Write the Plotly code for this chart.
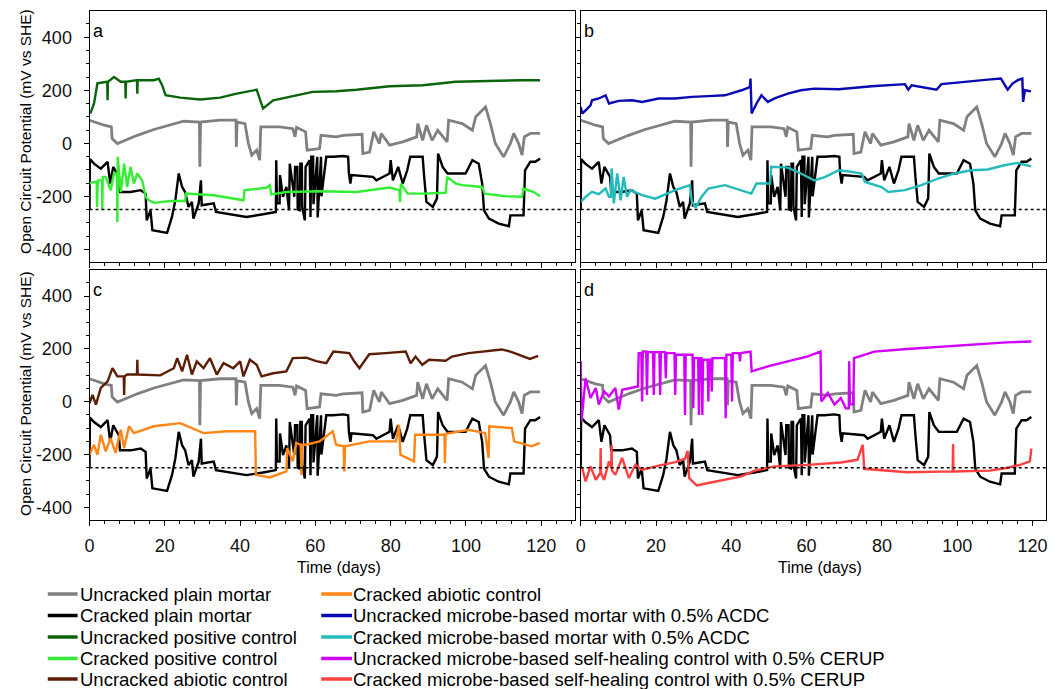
import plotly.graph_objects as go

W, H = 1058, 689
FONT = "Liberation Sans, Arial, sans-serif"

# ---------------- data (days, mV vs SHE) ----------------
gray_t = [0, 3.9, 5.8, 6.0, 7.4, 12.7, 17.1, 21.5, 25, 29.2, 29.3, 29.5, 34.7, 38.9, 39.0, 39.2, 41.3, 42.2, 43.1, 44.4, 45.2,
          45.5, 50.5, 54, 54.6, 55, 57.4, 57.8, 61.1, 61.5, 65.5, 67.4, 72.4, 72.6, 74.4, 75.5, 77, 77.5, 79.7, 83.2, 86.9,
          87.2, 88.5, 89.5, 91, 92.5, 95, 95.4, 99, 101.7, 102.6, 105.2, 106.5, 107.8, 110, 111.8, 112.7, 114, 114.9,
          115.5, 117.1, 119.7]
gray_v = [87, 68, 62, 18, -1, 30, 52, 68, 83, 80, -89, 80, 87, 87, -14, 80, 74, -1, -45, -26, -64,
          62, 62, 55, 24, 60, 43, -26, -20, 30, 24, 30, 34, -39, -33, 43, -1, 37, -7, 5, 24,
          74, 11, 68, 11, 49, 5, 87, 74, 49, 100, 137, 74, -1, -51, -1, 37, -1, -45,
          24, 37, 37]

black_t = [0, 0.1, 1.2, 3, 4.8, 5.5, 6.3, 7.8, 8.1, 10.9, 13.6, 14.9, 15.2, 16.2, 16.7, 20.6, 21.9, 22.8, 23.7, 24.6, 25.4,
           26.3, 27.2, 27.6, 29, 29.6, 29.8, 33, 33.6, 36.5, 41.7, 46.1, 49.5, 49.6, 49.8, 50.5, 50.6, 51.4, 52.3, 53.0,
           53.2, 54.4, 54.6, 55.2, 55.3, 55.8, 56.0, 56.4, 56.5, 57.2, 57.4, 58.5, 58.7, 58.9, 59.4, 59.5, 60.5, 60.6,
           61.5, 61.6, 62.9, 64.7, 67.4, 68.7, 68.9, 69.3, 69.6, 75.3, 76.2, 79.7, 80.0, 80.6, 82.0, 83.2, 84.4, 85.2,
           88.5, 88.9, 89.5, 91.2, 92.3, 92.6, 93.8, 95.1, 99.9, 101.7, 103.4, 104.3, 104.8, 106.1, 108.7, 111.4,
           111.8, 115.3, 115.7, 117.1, 118.4, 119.7]
black_v = [-250, -60, -77, -96, -70, -152, -89, -127, -184, -184, -177, -190, -291, -253, -328, -338, -278, -215, -114, -165, -184,
           -240, -221, -284, -227, -140, -234, -227, -259, -265, -278, -268, -259, -64, -227, -227, -120, -202, -165, -253,
           -77, -202, -89, -89, -250, -253, -77, -77, -240, -291, -89, -64, -278, -51, -51, -230, -51, -280,
           -51, -200, -51, -51, -48, -51, -114, -152, -120, -127, -140, -114, -64, -140, -89, -152, -102, -51,
           -51, -127, -221, -240, -208, -39, -89, -114, -114, -64, -77, -152, -253, -284, -303, -313,
           -272, -272, -102, -70, -70, -58]

upos_t = [0.2, 1.2, 2.1, 3.9, 4.7, 4.8, 4.9, 6.5, 8.3, 9.5, 9.6, 9.7, 12.6, 12.7, 12.8, 17.1, 18.4, 19.3, 20.2, 24.1, 29.4,
          34.7, 39.1, 44.4, 45.3, 46.1, 48.8, 54, 59.3, 65.5, 70.9, 79.7, 88.5, 97.3, 106.1, 114.9, 119.7]
upos_v = [112, 150, 226, 232, 232, 162, 232, 250, 232, 232, 169, 232, 238, 187, 238, 238, 244, 219, 181, 172, 165,
          172, 187, 202, 162, 131, 162, 177, 194, 196, 202, 215, 219, 232, 236, 238, 238]

cpos_t = [0, 1.2, 1.9, 2.0, 2.2, 3.3, 3.4, 3.5, 4.3, 5.6, 6.5, 7.3, 7.4, 7.5, 8.3, 9.2, 10, 10.9, 11.8, 12.7, 14, 14.9,
          15.8, 17.1, 21.5, 25.4, 25.6, 32.9, 40.9, 41.2, 47, 47.9, 48.3, 52.3, 61.1, 70.9, 79.7, 81.9, 82.3, 82.5,
          82.7, 84.5, 88.5, 94.6, 95.0, 97.3, 99, 104.3, 105.0, 110.5, 114.9, 115.3, 118, 119.7]
cpos_v = [-152, -146, -146, -240, -140, -140, -253, -127, -127, -177, -114, -114, -297, -51, -184, -77, -165, -89, -152, -114, -140,
          -202, -215, -225, -218, -218, -190, -196, -215, -177, -168, -158, -193, -184, -181, -184, -167, -177, -177, -221,
          -152, -190, -190, -187, -127, -152, -158, -165, -190, -200, -202, -171, -184, -200]

uabi_t = [0, 0.8, 1.7, 3, 4.8, 6.1, 7.4, 9.1, 9.2, 9.3, 10, 12.6, 12.7, 12.8, 18.8, 22.4, 23.3, 24.6, 25.9, 27.2, 28.5, 30.3,
          32, 33.8, 35.6, 38.2, 40, 40.9, 42.6, 44.4, 45.7, 48.8, 52.3, 54, 57.6, 60.2, 62.9, 64.8, 69, 70.3, 71.7, 73,
          74.3, 78.7, 84, 85.3, 86.6, 88.4, 90.2, 94.6, 96.3, 100.7, 105.1, 109.5, 112.2, 114.8, 117, 119.2]
uabi_v = [-5, 26, -11, 52, 77, 127, 96, 96, 26, 96, 103, 103, 159, 103, 100, 127, 165, 115, 178, 103, 153, 127,
          165, 103, 146, 127, 153, 96, 159, 140, 96, 108, 115, 165, 167, 154, 146, 190, 184, 153, 127, 153,
          180, 184, 190, 146, 171, 140, 159, 155, 171, 184, 190, 198, 188, 175, 162, 174]

cabi_t = [0, 1.2, 2.1, 3, 4.3, 5.6, 6.9, 8.3, 9.2, 10.5, 11.8, 17.1, 24.1, 28.5, 30.3, 36.5, 44.0, 44.2, 47.9, 52.3, 52.5,
          54, 54.9, 56.1, 56.3, 56.5, 57.6, 61.1, 64.6, 65.5, 67.5, 67.7, 67.9, 74.3, 81.4, 82.2, 82.6, 86.2, 86.5, 92.8,
          94.3, 94.4, 94.6, 100.7, 105.1, 106.0, 106.2, 112.2, 112.8, 117.5, 119.6]
cabi_v = [-201, -163, -201, -125, -188, -138, -194, -106, -175, -93, -119, -93, -81, -106, -119, -112, -112, -277, -287, -264, -175,
          -226, -156, -163, -277, -163, -163, -150, -112, -163, -169, -264, -169, -150, -150, -87, -201, -226, -125, -125,
          -125, -232, -122, -106, -119, -213, -93, -100, -150, -169, -156]

uacdc_t = [0, 0.4, 1.3, 2.6, 3, 4.8, 6.6, 7.5, 10.1, 13.6, 16.3, 20.7, 25.1, 29.5, 33.9, 38.3, 42.7, 44.9, 45.1, 45.4, 46.7,
           48, 49.7, 51.5, 55, 58.5, 62, 68.5, 77.3, 86.1, 87, 87.9, 94.5, 95.8, 99.3, 103.7, 108.1, 111.6, 112.5, 113.4,
           114.7, 116.1, 117.3, 117.5, 118.0, 119.6]
uacdc_v = [137, 112, 124, 143, 162, 169, 181, 150, 160, 162, 156, 169, 169, 175, 178, 181, 200, 212, 244, 112, 150,
           181, 156, 169, 187, 200, 206, 204, 215, 223, 202, 219, 202, 223, 228, 235, 240, 244, 225, 202,
           225, 238, 244, 156, 200, 196]

cacdc_t = [0, 1.3, 3, 4.8, 6.6, 7.5, 8.0, 8.2, 8.8, 9.7, 10.6, 11.4, 12.3, 13.2, 16.3, 19.8, 25.1, 29.0, 29.5, 30.5, 32.1,
           33.9, 38.3, 42.7, 45.3, 46.7, 50.3, 50.6, 55, 58.5, 62, 65, 68.5, 72, 74.6, 75.5, 79.9, 81.7, 86.1, 90.5, 94.9,
           99.3, 103.7, 108.1, 112.5, 116, 119.6]
cacdc_v = [-221, -202, -183, -192, -171, -202, -202, -95, -227, -114, -215, -127, -202, -177, -196, -209, -177, -158, -217, -243, -202,
           -171, -158, -177, -190, -152, -152, -89, -92, -114, -140, -127, -102, -108, -114, -146, -165, -184, -177, -158, -133,
           -114, -102, -99, -83, -74, -87]

ucer_t = [0, 0.2, 1.3, 2.6, 4, 4.8, 6.2, 7.5, 9.2, 10.1, 11, 15.2, 15.4, 16.1, 16.3, 16.5, 17.4, 17.6, 17.8, 19.2, 19.4, 19.6,
          20.9, 21.1, 21.3, 22.4, 22.6, 22.8, 24.9, 25.1, 25.3, 27.5, 27.7, 27.9, 29.7, 29.9, 30.1, 31.2, 31.4, 31.6,
          32.1, 32.3, 32.5, 33.7, 33.9, 34.1, 34.6, 34.8, 35.0, 38.3, 38.5, 38.7, 40.0, 40.2, 40.4, 42.1, 42.3, 42.5,
          45.1, 45.4, 49.7, 53.3, 56.8, 60.3, 63.7, 63.9, 65.6, 67.4, 69.1, 70.4, 71.2, 71.3, 71.5, 72.4, 72.6, 78,
          86.7, 95.5, 104.3, 113.1, 119.7]
ucer_v = [153, -75, 89, 14, 52, -11, 39, 20, 52, -30, 45, 58, 184, 184, 1, 190, 190, 26, 188, 188, 26, 188,
          188, 26, 188, 188, 89, 184, 184, 26, 178, 178, -50, 178, 178, -25, 165, 165, -50, 165,
          165, -50, 159, 159, 1, 159, 159, 39, 165, 165, -63, 178, 178, 1, 184, 184, 153, 184,
          190, 115, 134, 146, 159, 172, 190, 1, 33, -11, 14, -25, -25, 153, -10, -10, 165, 190,
          200, 209, 218, 225, 228]

ccer_t = [0.4, 1.3, 2.6, 4, 5.2, 5.3, 5.4, 6.2, 7.5, 8.1, 8.2, 8.3, 9.2, 11, 12.8, 14.5, 16.3, 20.7, 25.1, 27.7, 28.4, 28.8,
          30.8, 33.9, 38.3, 42.7, 46.2, 51.5, 60.3, 69.1, 73.5, 74.9, 75.3, 86.7, 98.8, 98.9, 99.0, 108.7, 113.1, 116.7,
          119.3, 119.7]
ccer_v = [-251, -302, -245, -296, -270, -175, -270, -296, -226, -250, -163, -260, -277, -213, -289, -239, -258, -242, -229, -216, -186, -289,
          -317, -308, -296, -283, -261, -245, -239, -230, -220, -163, -254, -267, -264, -160, -264, -261, -251, -239,
          -226, -178]

# tick labels (hyphen minus as in the original)
y_tickvals = [-400, -200, 0, 200, 400]
y_ticktext = ["-400", "-200", "0", "200", "400"]
x_tickvals = [0, 20, 40, 60, 80, 100, 120]
x_ticktext = ["0", "20", "40", "60", "80", "100", "120"]

# colours
C_GRAY, C_BLACK = "#808080", "#000000"
C_UPOS, C_CPOS = "#0a640a", "#33ee33"
C_UABI, C_CABI = "#5b1d06", "#ff8515"
C_UACDC, C_CACDC = "#0a0ab4", "#22bbbb"
C_UCER, C_CCER = "#d400ff", "#ff4040"

legend_items = [
    ("Uncracked plain mortar", C_GRAY), ("Cracked plain mortar", C_BLACK),
    ("Uncracked positive control", C_UPOS), ("Cracked positive control", C_CPOS),
    ("Uncracked abiotic control", C_UABI), ("Cracked abiotic control", C_CABI),
    ("Uncracked microbe-based mortar with 0.5% ACDC", C_UACDC),
    ("Cracked microbe-based mortar with 0.5% ACDC", C_CACDC),
    ("Uncracked microbe-based self-healing control with 0.5% CERUP", C_UCER),
    ("Cracked microbe-based self-healing control with 0.5% CERUP", C_CCER),
]
panel_letters = ["a", "b", "c", "d"]

# ---------------- figure ----------------
def px(x):
    return x / W

def py(y):
    return 1 - y / H

fig = go.Figure()

panels = [
    ("x", "y", [(upos_t, upos_v, C_UPOS), (cpos_t, cpos_v, C_CPOS)]),
    ("x2", "y2", [(uacdc_t, uacdc_v, C_UACDC), (cacdc_t, cacdc_v, C_CACDC)]),
    ("x3", "y3", [(uabi_t, uabi_v, C_UABI), (cabi_t, cabi_v, C_CABI)]),
    ("x4", "y4", [(ucer_t, ucer_v, C_UCER), (ccer_t, ccer_v, C_CCER)]),
]
for xa, ya, extra in panels:
    series = [(gray_t, gray_v, C_GRAY, 2.8), (black_t, black_v, C_BLACK, 2.4)] + [(t, v, c, 2.4) for t, v, c in extra]
    for t, v, c, w in series:
        fig.add_trace(go.Scatter(x=t, y=v, mode="lines", xaxis=xa, yaxis=ya,
                                 line=dict(color=c, width=w), showlegend=False, hoverinfo="skip"))

xdom_l = [px(85), px(573)]
xdom_r = [px(579), px(1047)]
ydom_t = [py(262), py(11)]
ydom_b = [py(520), py(270)]
xr_l = [0, 128.9]
xr_r = [0, 123.6]
yr = [-448, 499]

tickfont = dict(family=FONT, size=18, color="#111111")

def xax(dom, rng, anchor, labels):
    return dict(domain=dom, range=rng, anchor=anchor, showgrid=False, zeroline=False,
                showline=True, linecolor="black", linewidth=1, mirror=True,
                ticks="outside", ticklen=5, tickcolor="black",
                tickmode="array", tickvals=x_tickvals, ticktext=x_ticktext,
                minor=dict(ticks="outside", ticklen=3, dtick=4, tick0=0, tickcolor="black", showgrid=False),
                showticklabels=labels, tickfont=tickfont, ticklabelstandoff=4)

def yax(dom, anchor, labels):
    return dict(domain=dom, range=yr, anchor=anchor, showgrid=False, zeroline=False,
                showline=True, linecolor="black", linewidth=1, mirror=True,
                ticks="outside", ticklen=5, tickcolor="black",
                tickmode="array", tickvals=y_tickvals, ticktext=y_ticktext,
                minor=dict(ticks="outside", ticklen=3, dtick=50, tick0=0, tickcolor="black", showgrid=False),
                showticklabels=labels, tickfont=tickfont, ticklabelstandoff=8)

fig.update_layout(
    xaxis=xax(xdom_l, xr_l, "y", False),
    xaxis2=xax(xdom_r, xr_r, "y2", False),
    xaxis3=xax(xdom_l, xr_l, "y3", True),
    xaxis4=xax(xdom_r, xr_r, "y4", True),
    yaxis=yax(ydom_t, "x", True),
    yaxis2=yax(ydom_t, "x2", False),
    yaxis3=yax(ydom_b, "x3", True),
    yaxis4=yax(ydom_b, "x4", False),
)

shapes = []
# -250 mV dotted reference line in each panel
for xa, ya in [("x", "y"), ("x2", "y2"), ("x3", "y3"), ("x4", "y4")]:
    shapes.append(dict(type="line", xref=f"{xa} domain", yref=ya, x0=0, x1=1, y0=-250, y1=-250,
                       line=dict(color="black", width=1.5, dash="dot"), layer="above"))

annotations = []
# panel letters
for letter, (lx, ly) in zip(panel_letters, [(86, 31), (580, 31), (86, 290), (580, 290)]):
    annotations.append(dict(text=letter, x=px(lx), y=py(ly), xref="paper", yref="paper",
                            xanchor="left", yanchor="middle", showarrow=False,
                            font=dict(family=FONT, size=18, color="black")))
# axis titles
for yy in [131, 393]:
    annotations.append(dict(text="Open Circuit Potential (mV vs SHE)", x=px(20), y=py(yy), xref="paper",
                            yref="paper", textangle=-90, showarrow=False, xanchor="center", yanchor="middle",
                            font=dict(family=FONT, size=15.5, color="black")))
for xx in [336, 820]:
    annotations.append(dict(text="Time (days)", x=px(xx), y=py(567), xref="paper", yref="paper",
                            showarrow=False, xanchor="center", yanchor="middle",
                            font=dict(family=FONT, size=16, color="black")))
# legend (two columns)
row_y = [594, 615.5, 637, 658.5, 679]
for i, (name, col) in enumerate(legend_items):
    c, r = divmod(i, 5)
    lx0, lx1, tx = (43, 73, 73) if c == 0 else (318, 349, 348)
    yy = row_y[r]
    shapes.append(dict(type="line", xref="paper", yref="paper", x0=px(lx0), x1=px(lx1),
                       y0=py(yy), y1=py(yy), line=dict(color=col, width=3.5)))
    annotations.append(dict(text=name, x=px(tx), y=py(yy), xref="paper", yref="paper",
                            xanchor="left", yanchor="middle", showarrow=False,
                            font=dict(family=FONT, size=18.5, color="black")))

fig.update_layout(width=W, height=H, margin=dict(l=0, r=0, t=0, b=0),
                  paper_bgcolor="white", plot_bgcolor="white",
                  shapes=shapes, annotations=annotations, showlegend=False)

fig.write_html("out.html", config={"displayModeBar": False},
               post_script="document.body.style.margin='0px';document.body.style.overflow='hidden';")
